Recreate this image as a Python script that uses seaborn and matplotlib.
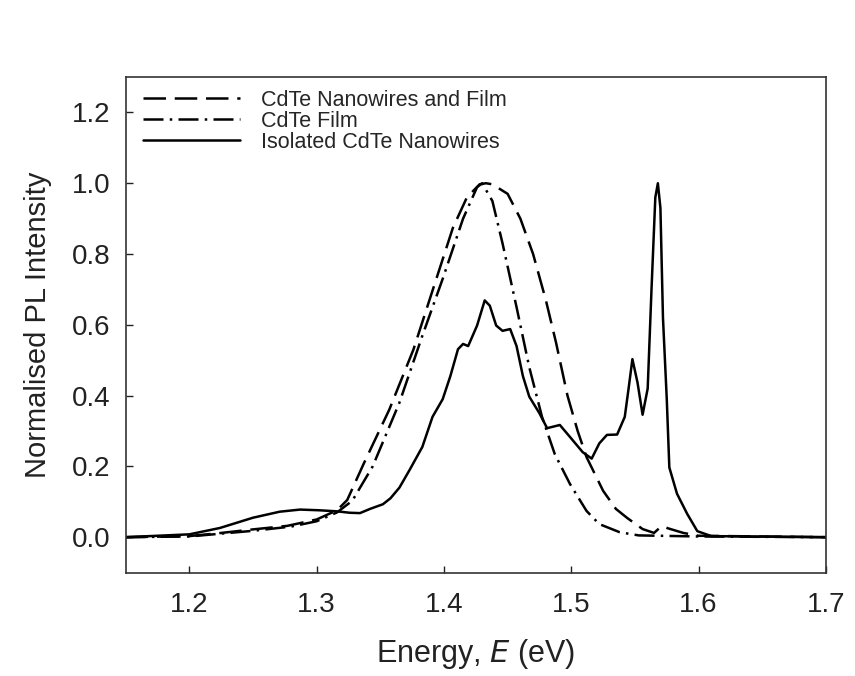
import matplotlib
matplotlib.use("Agg")
import matplotlib.pyplot as plt
import seaborn as sns

# CdTe nanowires + film (dashed)
nwf_E = [1.15, 1.2, 1.225, 1.25, 1.277, 1.3, 1.316, 1.324, 1.337, 1.357, 1.376, 1.394,
         1.407, 1.418, 1.428, 1.433, 1.438, 1.45, 1.46, 1.47, 1.48, 1.488, 1.497, 1.505,
         1.512, 1.525, 1.535, 1.544, 1.556, 1.565, 1.569, 1.572, 1.576, 1.588, 1.6, 1.7]
nwf_I = [0.0, 0.003, 0.012, 0.022, 0.032, 0.05, 0.076, 0.105, 0.208, 0.36, 0.53, 0.73,
         0.874, 0.96, 0.997, 1.0, 0.997, 0.97, 0.9, 0.8, 0.67, 0.55, 0.4, 0.3,
         0.226, 0.131, 0.08, 0.054, 0.023, 0.012, 0.025, 0.031, 0.025, 0.012, 0.004, 0.0]

# CdTe film (dash-dot)
film_E = [1.15, 1.2, 1.25, 1.28, 1.3, 1.316, 1.328, 1.344, 1.365, 1.383, 1.399, 1.415,
          1.426, 1.43, 1.438, 1.446, 1.457, 1.467, 1.477, 1.487, 1.499, 1.512, 1.522,
          1.538, 1.553, 1.6, 1.7]
film_I = [0.0, 0.002, 0.018, 0.03, 0.045, 0.07, 0.103, 0.2, 0.38, 0.569, 0.73, 0.9,
          0.989, 1.0, 0.95, 0.83, 0.65, 0.48, 0.34, 0.235, 0.15, 0.074, 0.037,
          0.014, 0.005, 0.002, 0.0]

# isolated CdTe nanowires (solid)
nw_E = [1.15, 1.2, 1.224, 1.25, 1.271, 1.287, 1.302, 1.316, 1.326, 1.334, 1.342, 1.352,
        1.358, 1.365, 1.373, 1.383, 1.391, 1.399, 1.405, 1.411, 1.415, 1.419, 1.426,
        1.432, 1.436, 1.441, 1.446, 1.452, 1.457, 1.462, 1.467, 1.475, 1.481, 1.491,
        1.499, 1.509, 1.516, 1.522, 1.528, 1.536, 1.542, 1.545, 1.548, 1.552, 1.556,
        1.56, 1.563, 1.566, 1.568, 1.57, 1.572, 1.575, 1.577, 1.583, 1.591, 1.599,
        1.61, 1.7]
nw_I = [0.0, 0.008, 0.026, 0.055, 0.072, 0.078, 0.076, 0.073, 0.069, 0.068, 0.08, 0.093,
        0.11, 0.14, 0.19, 0.255, 0.34, 0.39, 0.455, 0.531, 0.546, 0.54, 0.598,
        0.669, 0.654, 0.598, 0.583, 0.588, 0.54, 0.455, 0.397, 0.35, 0.308, 0.317,
        0.283, 0.24, 0.222, 0.265, 0.289, 0.29, 0.34, 0.42, 0.503, 0.437, 0.346,
        0.42, 0.7, 0.96, 1.0, 0.93, 0.62, 0.389, 0.197, 0.123, 0.066, 0.017,
        0.003, 0.0]

labels = ["CdTe Nanowires and Film", "CdTe Film", "Isolated CdTe Nanowires"]
x_ticks = [1.2, 1.3, 1.4, 1.5, 1.6, 1.7]
y_ticks = [0.0, 0.2, 0.4, 0.6, 0.8, 1.0, 1.2]

sns.set_style("ticks")
plt.rcParams["font.family"] = ["Liberation Sans", "DejaVu Sans"]

fig = plt.figure(figsize=(8.55, 6.76), dpi=100)
ax = fig.add_axes([0.147, 0.153, 0.819, 0.733])

lw = 1.8
sns.lineplot(x=nwf_E, y=nwf_I, ax=ax, color="black", lw=lw,
             linestyle=(0, (9, 3.5)), label=labels[0])
sns.lineplot(x=film_E, y=film_I, ax=ax, color="black", lw=lw,
             linestyle=(0, (8, 2.5, 1, 2.5)), label=labels[1])
sns.lineplot(x=nw_E, y=nw_I, ax=ax, color="black", lw=lw,
             linestyle="-", label=labels[2])

ax.set_xlim(1.15, 1.7)
ax.set_ylim(-0.1, 1.3)
ax.set_xticks(x_ticks)
ax.set_yticks(y_ticks)
ax.set_xticklabels([f"{v:.1f}" for v in x_ticks])
ax.set_yticklabels([f"{v:.1f}" for v in y_ticks])
ax.tick_params(direction="in", length=5, width=1, labelsize=20, colors="#222222")
ax.tick_params(axis="x", pad=14)
ax.tick_params(axis="y", pad=11)
for s in ax.spines.values():
    s.set_visible(True)
    s.set_linewidth(1.2)
    s.set_color("#333333")

ax.set_xlabel("Energy, $\\it{E}$ (eV)", fontsize=22, labelpad=14, color="#222222")
ax.set_ylabel("Normalised PL Intensity", fontsize=21, labelpad=14, color="#222222")

leg = ax.legend(loc="upper left", bbox_to_anchor=(0.006, 1.0), frameon=False,
                fontsize=15.5, handlelength=4.5, handletextpad=1.0,
                labelspacing=0.0, borderpad=0.3, borderaxespad=0.3)

fig.savefig("out.png", dpi=100)
